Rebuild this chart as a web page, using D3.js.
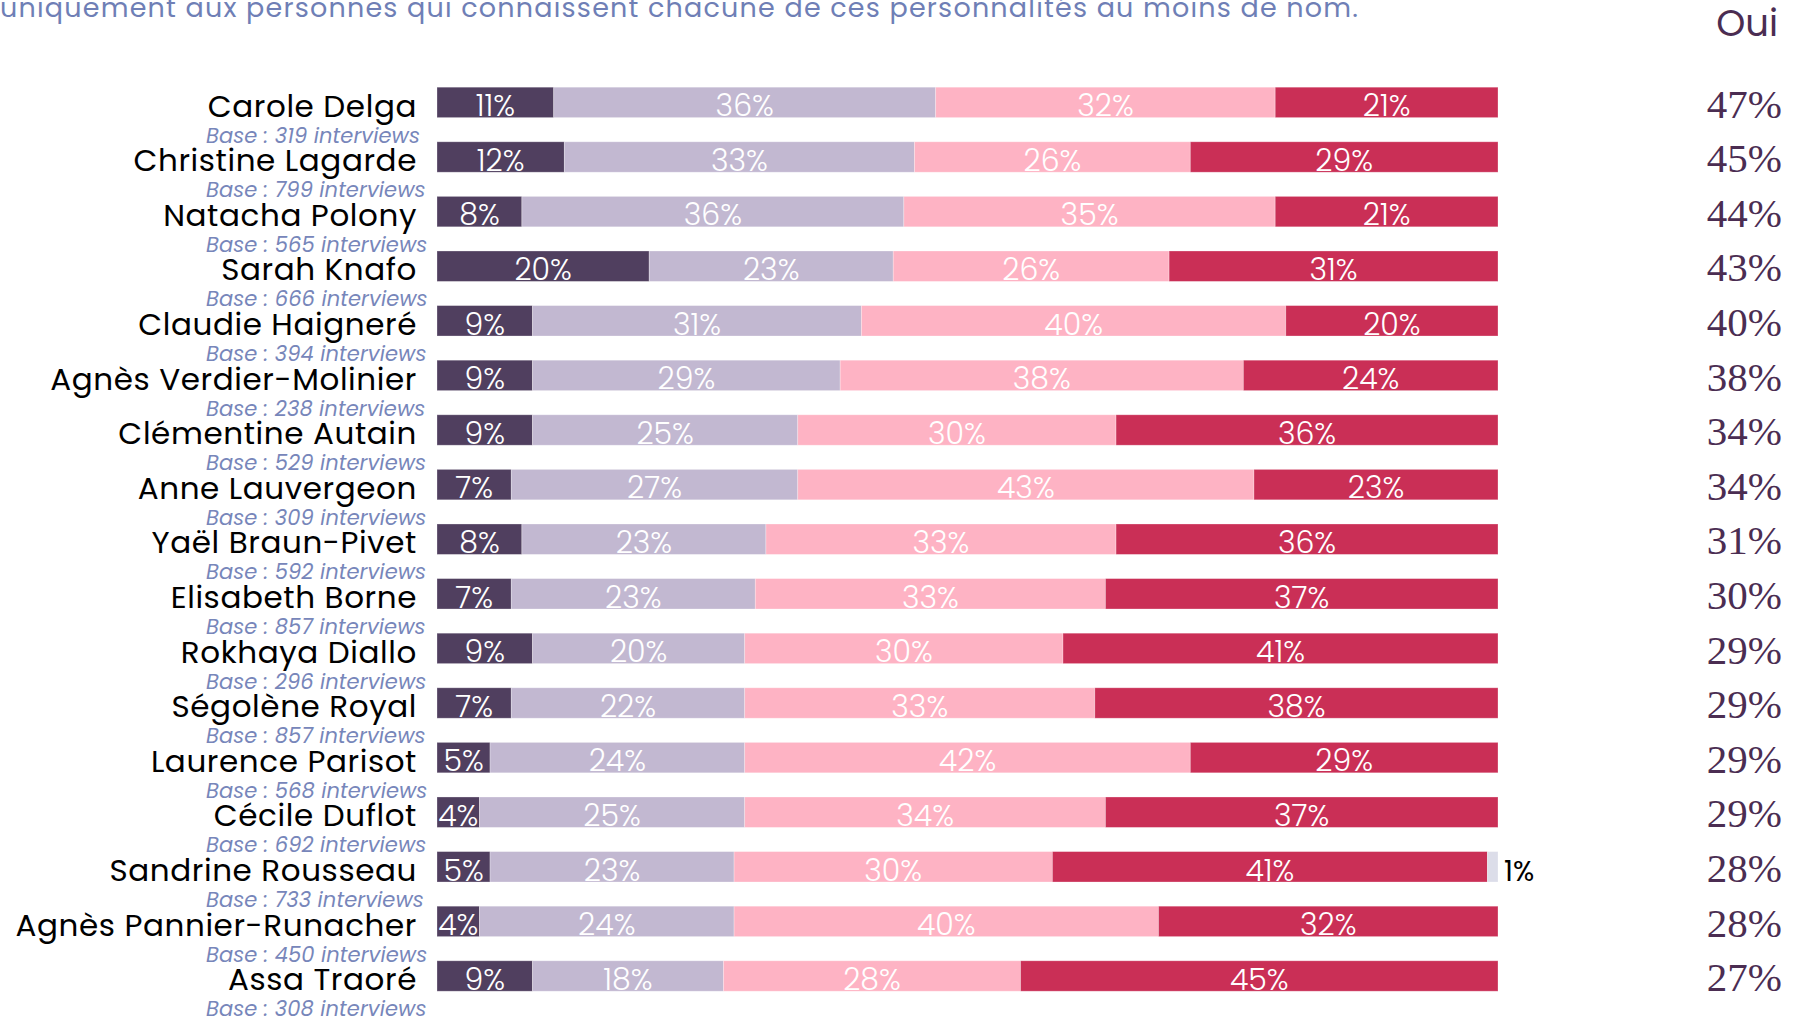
<!DOCTYPE html>
<html>
<head>
<meta charset="utf-8">
<script src="https://cdn.jsdelivr.net/npm/d3@7"></script>
<style>
  body { margin: 0; background: #fff; }
  svg { display: block; }
</style>
</head>
<body>
<svg id="chart"></svg>
<script>
// personalities, in the order shown
var names = ["Carole Delga", "Christine Lagarde", "Natacha Polony", "Sarah Knafo",
  "Claudie Haigneré", "Agnès Verdier-Molinier", "Clémentine Autain", "Anne Lauvergeon",
  "Yaël Braun-Pivet", "Elisabeth Borne", "Rokhaya Diallo", "Ségolène Royal",
  "Laurence Parisot", "Cécile Duflot", "Sandrine Rousseau", "Agnès Pannier-Runacher",
  "Assa Traoré"];
var bases = [319, 799, 565, 666, 394, 238, 529, 309, 592, 857, 296, 857, 568, 692, 733, 450, 308];

// answer shares (%)
var tresBonne      = [11, 12, 8, 20, 9, 9, 9, 7, 8, 7, 9, 7, 5, 4, 5, 4, 9];
var plutotBonne    = [36, 33, 36, 23, 31, 29, 25, 27, 23, 23, 20, 22, 24, 25, 23, 24, 18];
var plutotMauvaise = [32, 26, 35, 26, 40, 38, 30, 43, 33, 33, 30, 33, 42, 34, 30, 40, 28];
var tresMauvaise   = [21, 29, 21, 31, 20, 24, 36, 23, 36, 37, 41, 38, 29, 37, 41, 32, 45];
var nsp            = [0, 0, 0, 0, 0, 0, 0, 0, 0, 0, 0, 0, 0, 0, 1, 0, 0];
var oui = [47, 45, 44, 43, 40, 38, 34, 34, 31, 30, 29, 29, 29, 29, 28, 28, 27];

var subtitle = "uniquement aux personnes qui connaissent chacune de ces personnalités au moins de nom.";

var width = 1798, height = 1017;
var sans = "Poppins, 'Open Sans', sans-serif";
var purple = "#4b2d52";

var keys = ["tb", "pb", "pm", "tm", "nsp"];
var colors = {tb: "#503f5f", pb: "#c2b8d1", pm: "#feb3c4", tm: "#ca2f56", nsp: "#dcdde9"};

var rows = names.map(function (n, i) {
  return {name: n, tb: tresBonne[i], pb: plutotBonne[i], pm: plutotMauvaise[i],
          tm: tresMauvaise[i], nsp: nsp[i]};
});

var svg = d3.select("#chart").attr("width", width).attr("height", height);

var x = d3.scaleLinear().domain([0, 100]).range([437, 1498]);
var y = d3.scaleBand().domain(names).range([75.1, 75.1 + 17 * 54.6])
  .paddingInner(0.443).paddingOuter(0.2215);

// subtitle line, cut at the top of the picture
svg.append("text")
  .attr("x", 0).attr("y", 17)
  .attr("font-family", sans).attr("font-size", 27)
  .attr("letter-spacing", 1.2)
  .attr("fill", "#6f7fb6")
  .text(subtitle);

svg.append("text")
  .attr("x", 1778).attr("y", 36)
  .attr("text-anchor", "end")
  .attr("font-family", sans).attr("font-size", 37)
  .attr("fill", purple)
  .text("Oui");

var series = d3.stack().keys(keys)(rows);

var layer = svg.append("g").selectAll("g")
  .data(series).enter().append("g")
  .attr("fill", function (s) { return colors[s.key]; });

layer.selectAll("rect")
  .data(function (s) { return s.filter(function (d) { return d[1] > d[0]; }); })
  .enter().append("rect")
  .attr("x", function (d) { return x(d[0]); })
  .attr("y", function (d) { return y(d.data.name); })
  .attr("width", function (d) { return x(d[1]) - x(d[0]); })
  .attr("height", y.bandwidth())
  .attr("stroke", "#fff").attr("stroke-opacity", 0.35).attr("stroke-width", 0.8);

// labels inside the segments
layer.each(function (s) {
  var g = d3.select(this);
  var inside = s.key !== "nsp";
  g.selectAll("text")
    .data(s.filter(function (d) { return d[1] > d[0]; }))
    .enter().append("text")
    .attr("x", function (d) { return inside ? (x(d[0]) + x(d[1])) / 2 : x(d[1]) + 6; })
    .attr("y", function (d) { return y(d.data.name) + y.bandwidth() - 1.5; })
    .attr("text-anchor", inside ? "middle" : "start")
    .attr("font-family", sans)
    .attr("font-size", inside ? 30 : 28)
    .attr("font-weight", inside ? 300 : 400)
    .attr("fill", inside ? "#fff" : "#000")
    .text(function (d) { return (d[1] - d[0]) + "%"; });
});

// names and bases
var lab = svg.append("g").selectAll("g")
  .data(rows).enter().append("g");

lab.append("text")
  .attr("x", 417)
  .attr("y", function (d) { return y(d.name) + y.bandwidth() - 1; })
  .attr("text-anchor", "end")
  .attr("font-family", sans).attr("font-size", 31)
  .attr("letter-spacing", 0.6)
  .attr("fill", "#000")
  .text(function (d) { return d.name; });

lab.append("text")
  .attr("x", 206)
  .attr("y", function (d) { return y(d.name) + y.bandwidth() + 25; })
  .attr("font-family", sans).attr("font-size", 21)
  .attr("font-style", "italic")
  .attr("letter-spacing", 0.1)
  .attr("fill", "#7786ba")
  .text(function (d, i) { return "Base : " + bases[i] + " interviews"; });

// "Oui" totals
svg.append("g").selectAll("text")
  .data(oui).enter().append("text")
  .attr("x", 1782)
  .attr("y", function (d, i) { return y(names[i]) + y.bandwidth(); })
  .attr("text-anchor", "end")
  .attr("font-family", "'Liberation Serif', serif")
  .attr("font-size", 41)
  .attr("fill", purple)
  .text(function (d) { return d + "%"; });
</script>
</body>
</html>
